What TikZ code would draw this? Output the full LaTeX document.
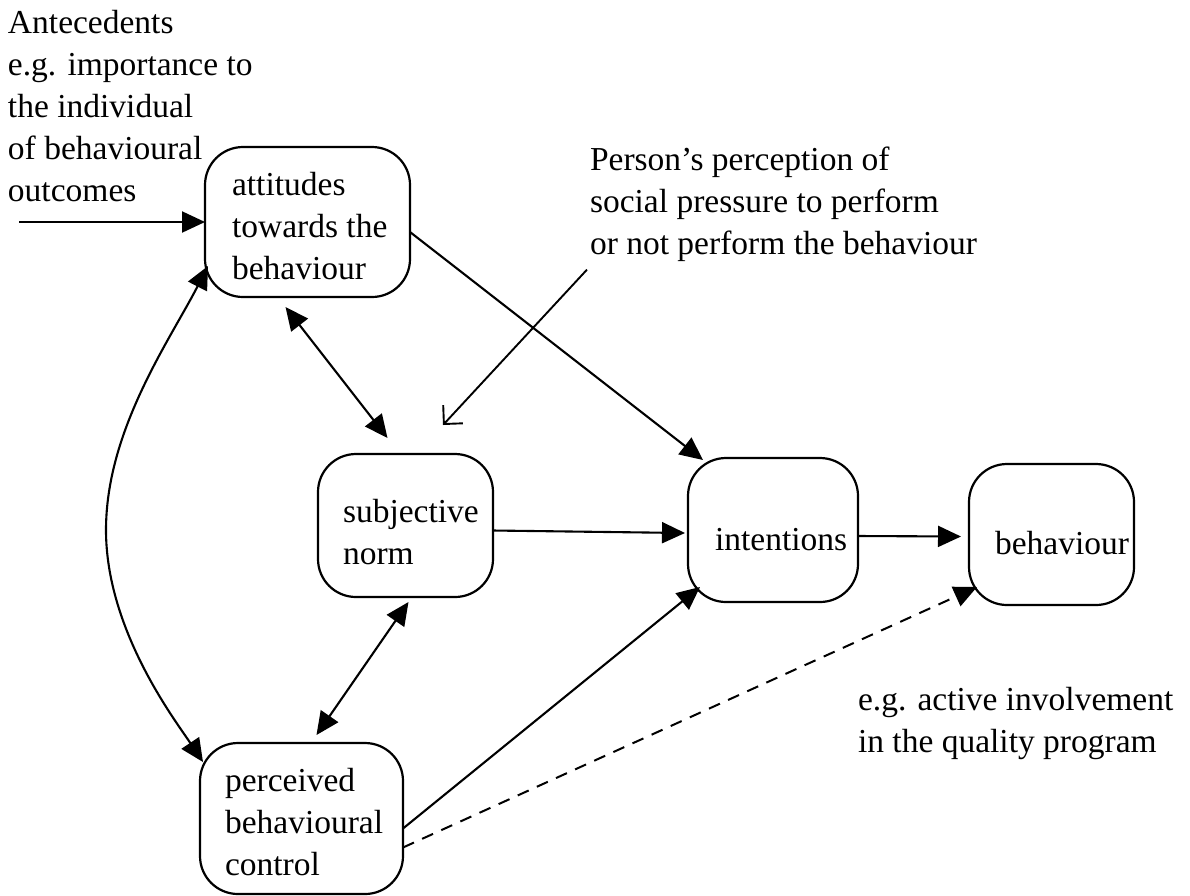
\documentclass[tikz,border=0pt]{standalone}
\usepackage{fontspec}
\setmainfont{Liberation Serif}
\usetikzlibrary{arrows.meta,calc}
% left-aligned multi-line text whose reference point is the first baseline
\newcommand\linesof[1]{\begin{tabular}[t]{@{}l@{}}#1\end{tabular}}

\begin{document}
\begin{tikzpicture}[x=1pt,y=-1pt,
  every node/.style={font=\fontsize{33.5}{42}\selectfont},
  box/.style={draw, line width=2.2pt, rounded corners=38pt, inner sep=0pt, outer sep=0pt},
  txt/.style={anchor=base west, inner sep=0pt, outer sep=0pt},
  conn/.style={line width=2.1pt, -{Triangle[length=23pt,width=21pt]}},
  twoway/.style={line width=2.1pt, {Triangle[length=23pt,width=21pt]}-{Triangle[length=23pt,width=21pt]}},
  dashconn/.style={line width=2pt, dash pattern=on 12pt off 9pt, -{Triangle[length=23pt,width=21pt]}},
  noteconn/.style={line width=1.9pt, -{Straight Barb[angle=90:19pt]}}]

\useasboundingbox (0,0) rectangle (1190,895);

% boxes
\node[box, minimum width=205pt, minimum height=150pt] (att)  at (307.5,222)  {};
\node[box, minimum width=175pt, minimum height=143pt] (subj) at (405.5,525.5) {};
\node[box, minimum width=170pt, minimum height=144pt] (int)  at (773,530)    {};
\node[box, minimum width=165pt, minimum height=141pt] (beh)  at (1051.5,534.5) {};
\node[box, minimum width=203pt, minimum height=151pt] (pbc)  at (301.5,818.5) {};

% texts inside the boxes
\node[txt] (attT)  at (232,195) {\linesof{attitudes\\towards the\\behaviour}};
\node[txt] (subjT) at (343,522) {\linesof{subjective\\norm}};
\node[txt] (intT)  at (715,550) {intentions};
\node[txt] (behT)  at (995,554) {behaviour};
\node[txt] (pbcT)  at (225,791) {\linesof{perceived\\behavioural\\control}};

% free texts
\node[txt] (ante) at (8,33) {\linesof{Antecedents\\e.g. importance to\\the individual\\of behavioural\\outcomes}};
\node[txt] (note) at (590,170) {\linesof{Person’s perception of\\social pressure to perform\\or not perform the behaviour}};
\node[txt] (example) at (858,710) {\linesof{e.g. active involvement\\in the quality program}};

% connectors
\coordinate (anteStart) at (19,222);
\draw[conn] (anteStart) -- (att.west);
\draw[conn] ($(att.east)+(0,10)$) -- ($(int.north west)+(15,2)$);
\draw[twoway] ($(att.south)+(-22,10)$) -- ($(subj.north)+(-18,-16)$);
\draw[twoway] ($(att.south west)+(3,-31)$)
  .. controls (170,340) and (106,430) .. (106,530)
  .. controls (106,630) and (175,720) .. ($(pbc.north west)+(3,19)$);
\draw[conn] ($(subj.east)+(0,5)$) -- ($(int.west)+(-3,3)$);
\draw[conn] ($(int.east)+(0,6)$) -- ($(beh.west)+(-8,2)$);
\draw[twoway] ($(subj.south)+(3,5)$) -- ($(pbc.north)+(15,-8)$);
\draw[conn] ($(pbc.east)+(0,10)$) -- ($(int.south west)+(12,-15)$);
\draw[dashconn] ($(pbc.east)+(0,29)$) -- ($(beh.south west)+(8,-18)$);
\coordinate (noteEnd) at (443,425);
\draw[noteconn] ($(note.south west)+(-3,3)$) -- (noteEnd);

\end{tikzpicture}
\end{document}
